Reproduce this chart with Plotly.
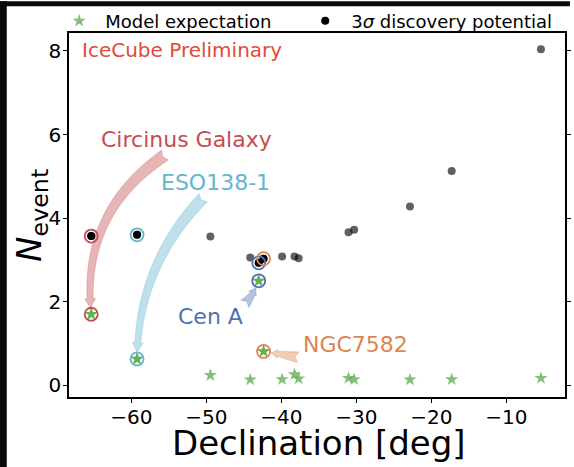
import numpy as np
import plotly.graph_objects as go

# Source declinations [deg] with the 3-sigma discovery potential and the model expectation
declination = [-65.34, -59.23, -49.46, -44.15, -43.02, -42.37, -39.9, -38.25,
               -37.7, -31.05, -30.3, -22.86, -17.3, -5.41]
n_discovery = [3.57, 3.60, 3.56, 3.06, 2.93, 3.03, 3.08, 3.08, 3.04, 3.66,
               3.72, 4.28, 5.13, 8.04]
n_model = [1.70, 0.63, 0.24, 0.135, 2.50, 0.81, 0.14, 0.26, 0.16, 0.17,
           0.14, 0.135, 0.14, 0.17]

# Highlighted sources (index into the arrays above)
source_names = ["Circinus Galaxy", "ESO138-1", "Cen A", "NGC7582"]
source_index = [0, 1, 4, 5]
source_colors = ["#c44e52", "#64b5cd", "#4c72b0", "#dd8452"]

x_ticks = [-60, -50, -40, -30, -20, -10]
x_tick_labels = ["\u221260", "\u221250", "\u221240", "\u221230", "\u221220", "\u221210"]
y_ticks = [0, 2, 4, 6, 8]
y_tick_labels = ["0", "2", "4", "6", "8"]

# ---- layout geometry -------------------------------------------------------
W, H = 574, 467
M_L, M_R, M_T, M_B = 69, 3, 30, 70
PW, PH = W - M_L - M_R, H - M_T - M_B
X_RANGE = [-68.3, -2.2]
Y_RANGE = [-0.28, 8.43]
FONT = "DejaVu Sans"


def to_px(x, y):
    px = M_L + (x - X_RANGE[0]) / (X_RANGE[1] - X_RANGE[0]) * PW
    py = M_T + (Y_RANGE[1] - y) / (Y_RANGE[1] - Y_RANGE[0]) * PH
    return px, py


def to_data(px, py):
    x = X_RANGE[0] + (px - M_L) / PW * (X_RANGE[1] - X_RANGE[0])
    y = Y_RANGE[1] - (py - M_T) / PH * (Y_RANGE[1] - Y_RANGE[0])
    return x, y


def paper_x(px):
    return (px - M_L) / PW


def paper_y(py):
    return 1 - (py - M_T) / PH


def fancy_arrow(tail, head, rad, shrink, w_tail, w_neck, w_head, head_len, notch):
    """Curved, tapering arrow (quadratic Bezier, arc3-like) as an SVG path in data units."""
    p0 = np.array(to_px(*tail))
    p2 = np.array(to_px(*head))
    d = p2 - p0
    c = (p0 + p2) / 2 + rad * np.array([-d[1], d[0]])
    t = np.linspace(0, 1, 400)[:, None]
    pts = (1 - t) ** 2 * p0 + 2 * t * (1 - t) * c + t ** 2 * p2
    s = np.concatenate([[0], np.cumsum(np.hypot(*np.diff(pts, axis=0).T))])
    length = s[-1] - shrink
    keep = s <= length
    pts, s = pts[keep], s[keep]
    tang = np.gradient(pts, axis=0)
    tang /= np.hypot(tang[:, 0], tang[:, 1])[:, None]
    normal = np.stack([-tang[:, 1], tang[:, 0]], axis=1)
    s_head = length - head_len
    shaft = s <= s_head
    w = w_tail + (w_neck - w_tail) * s[shaft] / s_head
    left = pts[shaft] + normal[shaft] * w[:, None] / 2
    right = pts[shaft] - normal[shaft] * w[:, None] / 2
    base, nb = pts[shaft][-1], normal[shaft][-1]
    tip = pts[-1]
    notch_pt = pts[np.searchsorted(s, notch)]
    poly = [*left, base + nb * w_head / 2, tip, base - nb * w_head / 2,
            *right[::-1], notch_pt]
    coords = [to_data(px, py) for px, py in poly]
    return "M " + " L ".join(f"{x:.4f},{y:.4f}" for x, y in coords) + " Z"


fig = go.Figure()

# all sources: discovery potential (grey) and model expectation (green stars)
fig.add_trace(go.Scatter(
    x=declination, y=n_discovery, mode="markers", showlegend=False,
    marker=dict(symbol="circle", size=8, color="black", opacity=0.62, line=dict(width=0)),
))
fig.add_trace(go.Scatter(
    x=declination, y=n_model, mode="markers", showlegend=False,
    marker=dict(symbol="star", size=10, color="#5aab4a", opacity=0.75, line=dict(width=0)),
))

hx = [declination[i] for i in source_index]
fig.add_trace(go.Scatter(
    x=hx, y=[n_model[i] for i in source_index], mode="markers",
    name="Model expectation" + "\u00a0" * 4, legendrank=1,
    marker=dict(symbol="star", size=10, color="#5aab4a", opacity=0.75, line=dict(width=0)),
))
fig.add_trace(go.Scatter(
    x=hx, y=[n_discovery[i] for i in source_index], mode="markers",
    name="3<i>\u03c3</i> discovery potential", legendrank=2,
    marker=dict(symbol="circle", size=8, color="black", line=dict(width=0)),
))

# coloured rings around highlighted sources
for name, idx, col in zip(source_names, source_index, source_colors):
    fig.add_trace(go.Scatter(
        x=[declination[idx], declination[idx]], y=[n_model[idx], n_discovery[idx]],
        mode="markers", showlegend=False, name=name,
        marker=dict(symbol="circle-open", size=13, color=col, line=dict(width=1.8, color=col)),
    ))

# label positions and arrow tails (data units)
label_pos = {
    "Circinus Galaxy": (-52.7, 5.89),
    "ESO138-1": (-48.75, 4.85),
    "Cen A": (-49.47, 1.64),
    "NGC7582": (-30.18, 0.98),
}
arrow_tail = {
    "Circinus Galaxy": (-55.5, 5.51),
    "ESO138-1": (-50.4, 4.49),
    "Cen A": (-44.86, 1.95),
    "NGC7582": (-37.75, 0.67),
}
arrow_style = {
    "Circinus Galaxy": dict(rad=0.3, shrink=6.5, w_tail=12, w_neck=6, w_head=11, head_len=9, notch=3),
    "ESO138-1": dict(rad=0.2, shrink=7, w_tail=12, w_neck=6, w_head=11, head_len=9, notch=3),
    "Cen A": dict(rad=0.1, shrink=7.5, w_tail=11, w_neck=5, w_head=9, head_len=7, notch=3),
    "NGC7582": dict(rad=0.0, shrink=7.5, w_tail=11, w_neck=5, w_head=9, head_len=7, notch=3),
}


def rgba(hex_col, a):
    h = hex_col.lstrip("#")
    r, g, b = (int(h[i:i + 2], 16) for i in (0, 2, 4))
    return f"rgba({r},{g},{b},{a})"


shapes = []
annotations = []
for name, idx, col in zip(source_names, source_index, source_colors):
    path = fancy_arrow(arrow_tail[name], (declination[idx], n_model[idx]), **arrow_style[name])
    shapes.append(dict(type="path", path=path, xref="x", yref="y", layer="below",
                       fillcolor=rgba(col, 0.42), line=dict(color=rgba(col, 0.5), width=0.6)))
    lx, ly = label_pos[name]
    annotations.append(dict(x=lx, y=ly, xref="x", yref="y", text=name, showarrow=False,
                            xanchor="center", yanchor="middle",
                            font=dict(family=FONT, size=22, color=col)))

annotations.append(dict(x=-66.85, y=8.03, xref="x", yref="y", text="IceCube Preliminary",
                        showarrow=False, xanchor="left", yanchor="middle",
                        font=dict(family=FONT, size=20, color="#de4b3a")))

# axis titles
annotations.append(dict(x=paper_x(322), y=paper_y(443), xref="paper", yref="paper",
                        text="Declination [deg]", showarrow=False,
                        xanchor="center", yanchor="middle",
                        font=dict(family=FONT, size=34, color="black")))
annotations.append(dict(x=paper_x(31), y=paper_y(214), xref="paper", yref="paper",
                        text="<i>N</i><sub>event</sub>", showarrow=False, textangle=-90,
                        xanchor="center", yanchor="middle",
                        font=dict(family=FONT, size=34, color="black")))

# dark border strips along the left and top edges of the image
shapes.append(dict(type="rect", xref="paper", yref="paper", layer="below",
                   x0=paper_x(-2), x1=paper_x(6), y0=paper_y(H + 2), y1=paper_y(-2),
                   fillcolor="#0a0a0a", line=dict(width=0)))
shapes.append(dict(type="rect", xref="paper", yref="paper", layer="below",
                   x0=paper_x(-2), x1=paper_x(W + 2), y0=paper_y(3), y1=paper_y(-2),
                   fillcolor="#0a0a0a", line=dict(width=0)))

fig.update_layout(
    width=W, height=H,
    margin=dict(l=M_L, r=M_R, t=M_T, b=M_B, pad=0),
    paper_bgcolor="white", plot_bgcolor="white",
    font=dict(family=FONT, color="black"),
    shapes=shapes, annotations=annotations,
    showlegend=True,
    legend=dict(orientation="h", x=paper_x(53), y=paper_y(18),
                xanchor="left", yanchor="middle", bgcolor="rgba(0,0,0,0)",
                itemwidth=42,
                font=dict(family=FONT, size=18, color="black"), traceorder="normal"),
    xaxis=dict(range=X_RANGE, tickvals=x_ticks, ticktext=x_tick_labels,
               ticks="outside", ticklen=4, tickwidth=1.2, tickcolor="black",
               showline=True, linewidth=1.6, linecolor="black", mirror=True,
               showgrid=False, zeroline=False, ticklabelstandoff=-3,
               tickfont=dict(family=FONT, size=20, color="black")),
    yaxis=dict(range=Y_RANGE, tickvals=y_ticks, ticktext=y_tick_labels,
               ticks="outside", ticklen=4, tickwidth=1.2, tickcolor="black",
               showline=True, linewidth=1.6, linecolor="black", mirror="ticks",
               showgrid=False, zeroline=False, ticklabelstandoff=-2,
               tickfont=dict(family=FONT, size=20, color="black")),
)

fig.write_html("out.html")
